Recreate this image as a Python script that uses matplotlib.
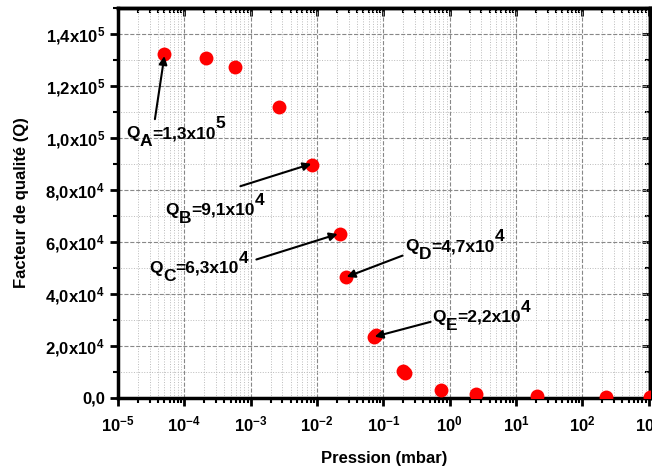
import matplotlib
matplotlib.use("Agg")
import matplotlib.pyplot as plt
from matplotlib.ticker import LogLocator, MultipleLocator, FixedLocator, NullFormatter
from matplotlib.transforms import offset_copy

plt.rcParams['font.family'] = ['Liberation Sans', 'DejaVu Sans']
plt.rcParams['font.weight'] = 'bold'
plt.rcParams['mathtext.fontset'] = 'custom'
plt.rcParams['mathtext.rm'] = 'Liberation Sans:bold'
plt.rcParams['mathtext.it'] = 'Liberation Sans:bold'
plt.rcParams['mathtext.bf'] = 'Liberation Sans:bold'

# data
pression = [5.0e-5, 2.1e-4, 5.8e-4, 2.7e-3, 8.5e-3, 0.022, 0.027,
            0.072, 0.078, 0.195, 0.21, 0.74, 2.5, 21, 230, 1050]
facteur_q = [132300, 130800, 127300, 111900, 89500, 62900, 46300,
             23300, 24000, 10300, 9500, 3000, 1400, 600, 200, 300]

yticks = [0, 2e4, 4e4, 6e4, 8e4, 1e5, 1.2e5, 1.4e5]
ylabels = ["0,0", "2,0x10$^{4}$", "4,0x10$^{4}$", "6,0x10$^{4}$", "8,0x10$^{4}$",
           "1,0x10$^{5}$", "1,2x10$^{5}$", "1,4x10$^{5}$"]
xticks = [1e-5, 1e-4, 1e-3, 1e-2, 1e-1, 1e0, 1e1, 1e2, 1e3]
xlabels = ["10$^{-5}$", "10$^{-4}$", "10$^{-3}$", "10$^{-2}$", "10$^{-1}$",
           "10$^{0}$", "10$^{1}$", "10$^{2}$", "10$^{3}$"]

# label letter, value text, exponent
labels = [("A", "=1,3x10", "5"), ("B", "=9,1x10", "4"), ("C", "=6,3x10", "4"),
          ("D", "=4,7x10", "4"), ("E", "=2,2x10", "4")]
label_pos = [(1.32e-5, 99800), (5.1e-5, 70500), (3.0e-5, 48100),
             (0.216, 56300), (0.553, 29200)]
arrow_tail = [(3.6e-5, 107200), (7.0e-4, 81400), (1.22e-3, 53200),
              (0.195, 54700), (0.516, 29200)]
arrow_head = [(5.0e-5, 131500), (8.2e-3, 90000), (0.0205, 63000),
              (0.028, 46500), (0.074, 23500)]

fig = plt.figure(figsize=(6.52, 4.69), dpi=100)
ax = fig.add_axes([0.181, 0.152, 0.816, 0.831])

ax.plot(pression, facteur_q, 'o', color='red', markersize=10, markeredgewidth=0, zorder=3)

ax.set_xscale('log')
ax.set_xlim(1e-5, 1.05e3)
ax.set_ylim(0, 1.5e5)

ax.xaxis.set_major_locator(FixedLocator(xticks))
ax.set_xticklabels(xlabels)
ax.xaxis.set_minor_locator(LogLocator(base=10, subs=range(2, 10), numticks=20))
ax.xaxis.set_minor_formatter(NullFormatter())
ax.yaxis.set_major_locator(FixedLocator(yticks))
ax.set_yticklabels(ylabels)
ax.yaxis.set_minor_locator(MultipleLocator(1e4))

ax.grid(which='major', linestyle='--', color='#888888', linewidth=0.8)
ax.grid(which='minor', linestyle=':', color='#bbbbbb', linewidth=0.7)
ax.set_axisbelow(True)

for s in ax.spines.values():
    s.set_linewidth(2.5)

ax.tick_params(axis='both', which='major', labelsize=12, width=2, length=6, direction='out')
ax.tick_params(axis='x', which='major', pad=6)
ax.tick_params(axis='both', which='minor', width=1.5, length=3.5, direction='out')

# top/right ticks point inwards
ax2 = ax.secondary_xaxis('top')
ax2.xaxis.set_major_locator(FixedLocator(xticks))
ax2.xaxis.set_minor_locator(LogLocator(base=10, subs=range(2, 10), numticks=20))
ax2.tick_params(which='major', direction='in', width=2, length=6)
ax2.tick_params(which='minor', direction='in', width=1.5, length=3.5)
ax2.set_xticklabels([])
ax2.xaxis.set_minor_formatter(NullFormatter())
ax3 = ax.secondary_yaxis('right')
ax3.yaxis.set_major_locator(FixedLocator(yticks))
ax3.yaxis.set_minor_locator(MultipleLocator(1e4))
ax3.tick_params(which='major', direction='in', width=2, length=6)
ax3.tick_params(which='minor', direction='in', width=1.5, length=3.5)
ax3.set_yticklabels([])
for s in list(ax2.spines.values()) + list(ax3.spines.values()):
    s.set_linewidth(2.5)

ax.set_xlabel("Pression (mbar)", fontsize=12, fontweight='bold', labelpad=12)
ax.set_ylabel("Facteur de qualité (Q)", fontsize=12, fontweight='bold', labelpad=12)

renderer = fig.canvas.get_renderer()
for (sub, val, exp), (lx, ly), tail, head in zip(labels, label_pos, arrow_tail, arrow_head):
    ax.annotate("", xy=head, xytext=tail,
                arrowprops=dict(arrowstyle='-|>', color='black', lw=1.5,
                                mutation_scale=12, shrinkA=0, shrinkB=0))
    dx = 0
    for piece, dy in [("Q", 0), (sub, -8), (val, 0), (exp, 10)]:
        t = ax.text(lx, ly, piece, fontsize=12.5, fontweight='bold', ha='left', va='baseline',
                    transform=offset_copy(ax.transData, fig=fig, x=dx, y=dy, units='dots'))
        dx += t.get_window_extent(renderer=renderer).width

fig.savefig("out.png", dpi=100)
